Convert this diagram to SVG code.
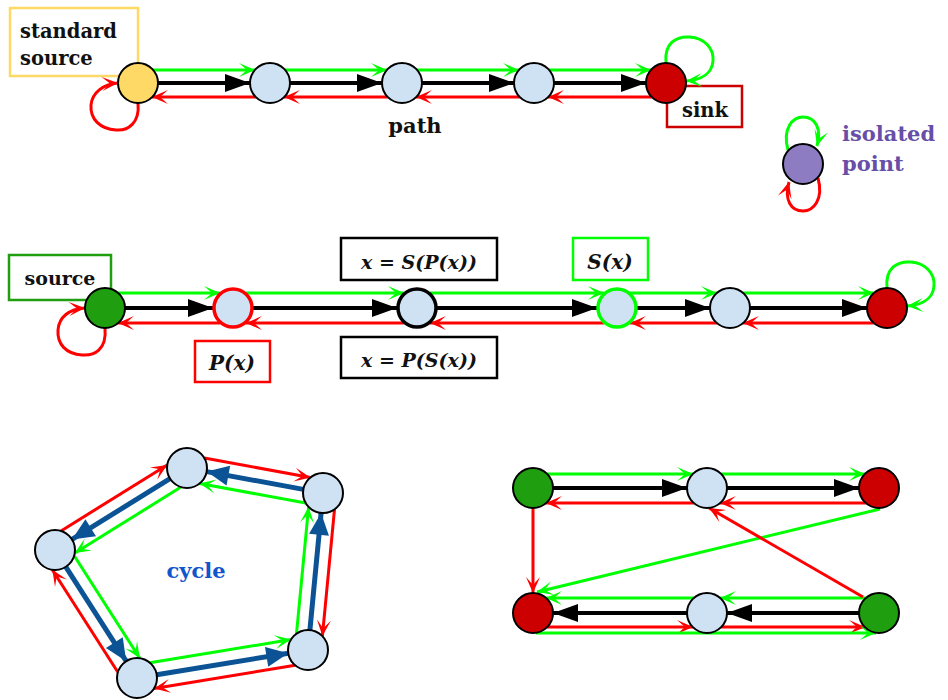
<svg xmlns="http://www.w3.org/2000/svg" width="948" height="700" viewBox="0 0 948 700">
<style>
.g{stroke:#00ff00;stroke-width:3;fill:none;marker-end:url(#mg)}
.r{stroke:#ff0000;stroke-width:3;fill:none;marker-end:url(#mr)}
.k{stroke:#000;stroke-width:4;fill:none;marker-end:url(#mk)}
.b{stroke:#0b5394;stroke-width:5;fill:none;marker-end:url(#mb)}
.n{stroke:#000;stroke-width:2}
.lb{fill:#cfe2f3}
.t{font-family:"DejaVu Serif",serif;font-weight:bold;fill:#111}
.ti{font-family:"DejaVu Serif",serif;font-weight:bold;font-style:italic;fill:#111}
.box{fill:#fff;stroke-width:2.5}
</style>
<defs>
<marker id="mg" markerUnits="userSpaceOnUse" viewBox="-18 -9 20 18" refX="0" refY="0" markerWidth="20" markerHeight="18" orient="auto"><path d="M0,0 L-16,-7 L-8,0 L-16,7 Z" fill="#00ff00"/></marker>
<marker id="mr" markerUnits="userSpaceOnUse" viewBox="-18 -9 20 18" refX="0" refY="0" markerWidth="20" markerHeight="18" orient="auto"><path d="M0,0 L-16,-7 L-8,0 L-16,7 Z" fill="#ff0000"/></marker>
<marker id="mk" markerUnits="userSpaceOnUse" viewBox="-27 -11 29 22" refX="0" refY="0" markerWidth="29" markerHeight="22" orient="auto"><path d="M0,0 L-25,-9 L-25,9 Z" fill="#000"/></marker>
<marker id="mb" markerUnits="userSpaceOnUse" viewBox="-25 -12 27 24" refX="0" refY="0" markerWidth="27" markerHeight="24" orient="auto"><path d="M0,0 L-22,-10 L-22,10 Z" fill="#0b5394"/></marker>
</defs>

<g id="label-standard-source">
<rect class="box" x="10" y="8" width="128" height="68" stroke="#ffd966"/>
<text class="t" x="20" y="38" font-size="19.5">standard</text>
<text class="t" x="20" y="65" font-size="19.5">source</text>
</g>
<g id="label-sink">
<rect class="box" x="667" y="86" width="75" height="41" stroke="#cc0000"/>
<text class="t" x="705" y="117" font-size="19.5" text-anchor="middle">sink</text>
</g>
<g id="label-source">
<rect class="box" x="9" y="255" width="102" height="45" stroke="#1f9f0f"/>
<text class="t" x="60" y="285" font-size="19" text-anchor="middle">source</text>
</g>
<g id="label-px">
<rect class="box" x="195" y="341" width="75" height="41" stroke="#ff0000"/>
<text class="ti" x="232" y="370" font-size="20" text-anchor="middle">P(x)</text>
</g>
<g id="label-spx">
<rect class="box" x="341" y="238" width="156" height="42" stroke="#000"/>
<text class="ti" x="419" y="269" font-size="19" text-anchor="middle">x = S(P(x))</text>
</g>
<g id="label-psx">
<rect class="box" x="341" y="337" width="156" height="41" stroke="#000"/>
<text class="ti" x="419" y="367" font-size="19" text-anchor="middle">x = P(S(x))</text>
</g>
<g id="label-sx">
<rect class="box" x="573" y="238" width="75" height="42" stroke="#00ff00"/>
<text class="ti" x="610" y="269" font-size="20" text-anchor="middle">S(x)</text>
</g>

<g id="connectors">
<!-- row 1 -->
<path class="g" d="M153,70 L255,70"/>
<path class="g" d="M285,70 L387,70"/>
<path class="g" d="M417,70 L519,70"/>
<path class="g" d="M549,70 L651,70"/>
<path class="k" d="M158,83 L250,83"/>
<path class="k" d="M290,83 L382,83"/>
<path class="k" d="M422,83 L514,83"/>
<path class="k" d="M554,83 L646,83"/>
<path class="r" d="M256,97 L152,97"/>
<path class="r" d="M388,97 L284,97"/>
<path class="r" d="M520,97 L416,97"/>
<path class="r" d="M652,97 L548,97"/>
<path class="r" d="M138,103 C140,123 128,131 116,130 C100,129 90,119 91,105 C92,93 103,84 118,83"/>
<path class="g" d="M666,63 C664,43 676,36 690,37 C704,38 714,48 713,61 C712,73 702,80 686,81"/>
<!-- isolated -->
<path class="g" d="M788,150 C782,128 793,117 803,117 C815,117 822,128 817,146"/>
<path class="r" d="M818,178 C824,200 813,211 803,211 C791,211 784,200 789,182"/>
<!-- row 2 -->
<path class="g" d="M118,293 L220,293"/>
<path class="g" d="M246,293 L404,293"/>
<path class="g" d="M430,293 L604,293"/>
<path class="g" d="M630,293 L717,293"/>
<path class="g" d="M743,293 L874,293"/>
<path class="k" d="M125,308 L213,308"/>
<path class="k" d="M253,308 L397,308"/>
<path class="k" d="M437,308 L597,308"/>
<path class="k" d="M637,308 L710,308"/>
<path class="k" d="M750,308 L867,308"/>
<path class="r" d="M220,323 L118,323"/>
<path class="r" d="M404,323 L246,323"/>
<path class="r" d="M604,323 L430,323"/>
<path class="r" d="M717,323 L630,323"/>
<path class="r" d="M874,323 L743,323"/>
<path class="r" d="M105,328 C107,350 94,356 82,355 C66,354 57,344 58,330 C59,317 69,309 85,308"/>
<path class="g" d="M887,288 C885,268 897,261 911,262 C925,263 935,273 934,286 C933,298 923,305 907,306"/>
<!-- cycle -->
<path class="b" d="M303.3,489.4 L206.7,471.6"/>
<path class="g" d="M305.7,503 L199.6,483.5"/>
<path class="r" d="M204.3,458 L310.4,477.5"/>
<path class="b" d="M170,478.6 L72,539.4"/>
<path class="g" d="M181,487.1 L74.8,553"/>
<path class="r" d="M61,530.9 L167.2,465"/>
<path class="b" d="M65.8,566.8 L126.2,661.2"/>
<path class="g" d="M74.2,555.8 L139.8,658.2"/>
<path class="r" d="M117.9,672.2 L52.3,569.8"/>
<path class="b" d="M156.7,674.8 L288.3,653.2"/>
<path class="g" d="M149.9,662.7 L290.9,639.6"/>
<path class="r" d="M295.1,665.3 L154.1,688.4"/>
<path class="b" d="M309.9,630.1 L321.1,512.9"/>
<path class="g" d="M296.5,633.6 L308.6,506.9"/>
<path class="r" d="M334.5,509.4 L322.4,636.1"/>
<!-- bottom right -->
<path class="g" d="M547,474 L693,474"/>
<path class="g" d="M721,474 L865,474"/>
<path class="k" d="M553,488 L687,488"/>
<path class="k" d="M727,488 L859,488"/>
<path class="r" d="M866,503 L720,503"/>
<path class="r" d="M694,503 L546,503"/>
<path class="g" d="M866,598 L720,598"/>
<path class="g" d="M694,598 L546,598"/>
<path class="k" d="M859,613 L727,613"/>
<path class="k" d="M687,613 L553,613"/>
<path class="r" d="M547,627 L693,627"/>
<path class="r" d="M721,627 L865,627"/>
<path class="g" d="M536,633 L876,633"/>
<path class="r" d="M533,508 L533,593"/>
<path class="g" d="M880,509 L537,592"/>
<path class="r" d="M863,597 L709,508"/>
</g>

<g id="node-standard-source"><circle class="n" cx="138" cy="83" r="20" fill="#ffd966"/></g>
<g id="node-p1"><circle class="n lb" cx="270" cy="83" r="20"/></g>
<g id="node-p2"><circle class="n lb" cx="402" cy="83" r="20"/></g>
<g id="node-p3"><circle class="n lb" cx="534" cy="83" r="20"/></g>
<g id="node-sink"><circle class="n" cx="666" cy="83" r="20" fill="#cc0000"/></g>
<g id="node-isolated"><circle class="n" cx="803" cy="164" r="20" fill="#8e7cc3"/></g>

<g id="node-source"><circle class="n" cx="105" cy="308" r="20" fill="#1f9f0f"/></g>
<g id="node-px"><circle cx="233" cy="308" r="19" fill="#cfe2f3" stroke="#ff0000" stroke-width="3.5"/></g>
<g id="node-x"><circle cx="417" cy="308" r="19" fill="#cfe2f3" stroke="#000" stroke-width="3.5"/></g>
<g id="node-sx"><circle cx="617" cy="308" r="19" fill="#cfe2f3" stroke="#00ff00" stroke-width="3.5"/></g>
<g id="node-r2e"><circle class="n lb" cx="730" cy="308" r="20"/></g>
<g id="node-r2sink"><circle class="n" cx="887" cy="308" r="20" fill="#cc0000"/></g>

<g id="node-c1"><circle class="n lb" cx="187" cy="468" r="20"/></g>
<g id="node-c2"><circle class="n lb" cx="323" cy="493" r="20"/></g>
<g id="node-c3"><circle class="n lb" cx="55" cy="550" r="20"/></g>
<g id="node-c4"><circle class="n lb" cx="137" cy="678" r="20"/></g>
<g id="node-c5"><circle class="n lb" cx="308" cy="650" r="20"/></g>

<g id="node-g1"><circle class="n" cx="533" cy="488" r="20" fill="#1f9f0f"/></g>
<g id="node-m1"><circle class="n lb" cx="707" cy="488" r="20"/></g>
<g id="node-r1"><circle class="n" cx="879" cy="488" r="20" fill="#cc0000"/></g>
<g id="node-r2"><circle class="n" cx="533" cy="613" r="20" fill="#cc0000"/></g>
<g id="node-m2"><circle class="n lb" cx="707" cy="613" r="20"/></g>
<g id="node-g2"><circle class="n" cx="879" cy="613" r="20" fill="#1f9f0f"/></g>

<g id="labels">
<text class="t" x="415" y="133" font-size="21" text-anchor="middle">path</text>
<text class="t" x="842" y="141" font-size="21" style="fill:#674ea7">isolated</text>
<text class="t" x="842" y="171" font-size="21" style="fill:#674ea7">point</text>
<text class="t" x="196" y="578" font-size="21" text-anchor="middle" style="fill:#1155cc">cycle</text>
</g>
</svg>
